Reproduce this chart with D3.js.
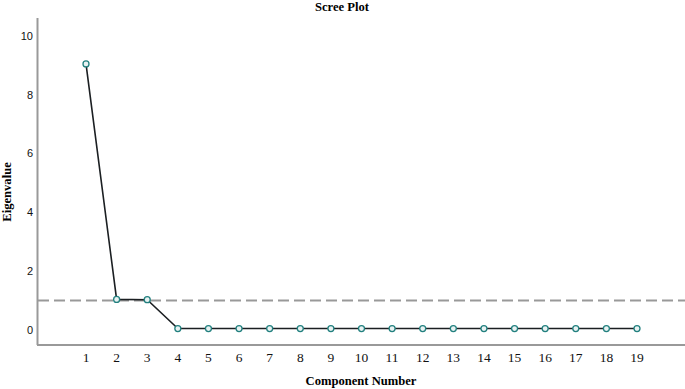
<!DOCTYPE html>
<html>
<head>
<script src="https://cdn.jsdelivr.net/npm/d3@7"></script>
<style>
  body { margin: 0; background: #fff; }
  .ylab { font-family: "Liberation Sans", Arial, sans-serif; font-size: 11px; fill: #111; }
  .xlab { font-family: "Liberation Serif", "Times New Roman", serif; font-size: 13.5px; fill: #111; }
  .ttl { font-family: "Liberation Serif", "Times New Roman", serif; font-size: 12.6px; font-weight: bold; fill: #000; }
</style>
</head>
<body>
<div id="chart"></div>
<script>
  var components = [1, 2, 3, 4, 5, 6, 7, 8, 9, 10, 11, 12, 13, 14, 15, 16, 17, 18, 19];
  var eigenvalues = [9.05, 1.04, 1.03, 0.05, 0.05, 0.05, 0.05, 0.05, 0.05, 0.05, 0.05, 0.05, 0.05, 0.05, 0.05, 0.05, 0.05, 0.05, 0.05];
  var yTicks = [0, 2, 4, 6, 8, 10];
  var cutoff = 1;

  var W = 685, H = 389;
  var svg = d3.select("#chart").append("svg")
      .attr("width", W)
      .attr("height", H);

  var x = d3.scaleLinear().domain([1, 19]).range([86, 637]);
  var y = d3.scaleLinear().domain([0, 10]).range([330, 36]);

  // axes
  svg.append("line")
      .attr("x1", 37.5).attr("x2", 37.5)
      .attr("y1", 18).attr("y2", 345)
      .attr("stroke", "#999").attr("stroke-width", 2);
  svg.append("line")
      .attr("x1", 37).attr("x2", W)
      .attr("y1", 345).attr("y2", 345)
      .attr("stroke", "#999").attr("stroke-width", 2);

  svg.selectAll(".ylab")
      .data(yTicks)
      .enter().append("text")
      .attr("class", "ylab")
      .attr("x", 33)
      .attr("y", function (d) { return y(d); })
      .attr("dy", "0.35em")
      .attr("text-anchor", "end")
      .text(function (d) { return d; });

  svg.selectAll(".xlab")
      .data(components)
      .enter().append("text")
      .attr("class", "xlab")
      .attr("x", function (d) { return x(d); })
      .attr("y", 357)
      .attr("dy", "0.35em")
      .attr("text-anchor", "middle")
      .text(function (d) { return d; });

  // reference line at eigenvalue 1
  svg.append("line")
      .attr("x1", 38).attr("x2", W)
      .attr("y1", y(cutoff)).attr("y2", y(cutoff))
      .attr("stroke", "#999").attr("stroke-width", 2)
      .attr("stroke-dasharray", "11,5");

  var line = d3.line()
      .x(function (d, i) { return x(components[i]); })
      .y(function (d) { return y(d); });

  svg.append("path")
      .datum(eigenvalues)
      .attr("d", line)
      .attr("fill", "none")
      .attr("stroke", "#1b1f22")
      .attr("stroke-width", 1.6);

  svg.selectAll(".pt")
      .data(eigenvalues)
      .enter().append("circle")
      .attr("class", "pt")
      .attr("cx", function (d, i) { return x(components[i]); })
      .attr("cy", function (d) { return y(d); })
      .attr("r", 3)
      .attr("fill", "#e8f2f2")
      .attr("stroke", "#22807f")
      .attr("stroke-width", 1.3);

  // titles
  svg.append("text")
      .attr("class", "ttl")
      .attr("x", 342).attr("y", 6.5)
      .attr("dy", "0.35em")
      .attr("text-anchor", "middle")
      .text("Scree Plot");

  svg.append("text")
      .attr("class", "ttl")
      .attr("transform", "translate(6.5,192) rotate(-90)")
      .attr("dy", "0.35em")
      .attr("text-anchor", "middle")
      .text("Eigenvalue");

  svg.append("text")
      .attr("class", "ttl")
      .attr("x", 361).attr("y", 381)
      .attr("dy", "0.35em")
      .attr("text-anchor", "middle")
      .text("Component Number");
</script>
</body>
</html>
